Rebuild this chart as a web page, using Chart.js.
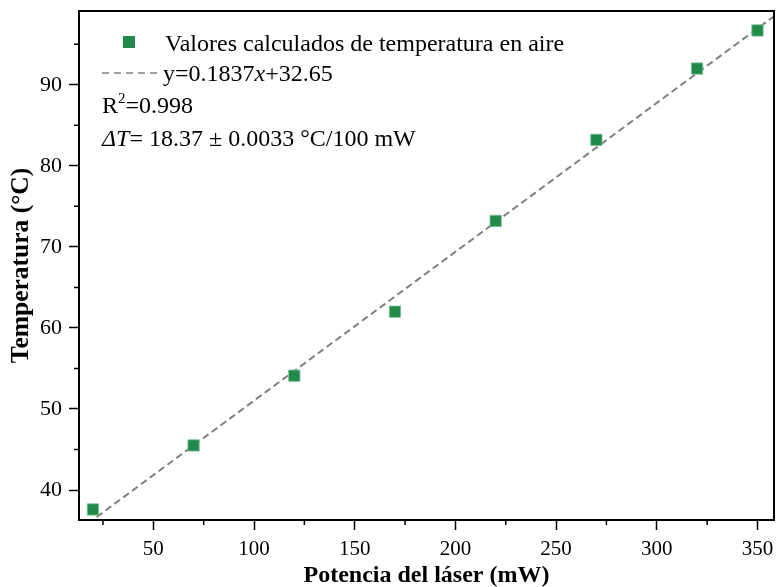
<!DOCTYPE html>
<html>
<head>
<meta charset="utf-8">
<script src="https://cdn.jsdelivr.net/npm/chart.js@4.4.0/dist/chart.umd.min.js"></script>
<style>
  html, body { margin: 0; padding: 0; background: #fff; overflow: hidden; }
  #wrap { width: 776px; height: 587px; }
</style>
</head>
<body>
<div id="wrap"><canvas id="myChart"></canvas></div>
<script>
// data
const potencia = [20, 70, 120, 170, 220, 270, 320, 350];
const temperatura = [37.6, 45.5, 54.1, 62.0, 73.2, 83.2, 92.0, 96.7];
const xTicks = [50, 100, 150, 200, 250, 300, 350];
const yTicks = [40, 50, 60, 70, 80, 90];
const xMinor = [25, 75, 125, 175, 225, 275, 325];
const yMinor = [45, 55, 65, 75, 85, 95];
const fitSlope = 0.1837;
const fitIntercept = 32.65;
const fitRange = [13.1, 358.2];

const serif = "'Liberation Serif', 'Times New Roman', serif";
const green = '#218a4b';

const fitLine = fitRange.map(x => ({ x: x, y: fitSlope * x + fitIntercept }));
const points = potencia.map((x, i) => ({ x: x, y: temperatura[i] }));

function noPad(s) {
  s.paddingLeft = 0; s.paddingRight = 0; s.paddingTop = 0; s.paddingBottom = 0;
}

// frame, minor ticks and the text box in the top-left corner
const decor = {
  id: 'decor',
  afterDraw(chart) {
    const { ctx, chartArea: a, scales } = chart;
    ctx.save();
    ctx.strokeStyle = '#000';
    ctx.lineWidth = 1.5;
    ctx.beginPath();
    xMinor.forEach(v => {
      const px = scales.x.getPixelForValue(v);
      ctx.moveTo(px, a.bottom); ctx.lineTo(px, a.bottom + 5);
    });
    yMinor.forEach(v => {
      const py = scales.y.getPixelForValue(v);
      ctx.moveTo(a.left, py); ctx.lineTo(a.left - 5, py);
    });
    ctx.stroke();
    ctx.lineWidth = 2;
    ctx.strokeRect(a.left, a.top, a.right - a.left, a.bottom - a.top);

    // legend-like annotation
    ctx.fillStyle = green;
    ctx.fillRect(123, 36, 12, 12);
    ctx.fillStyle = '#000';
    ctx.textBaseline = 'alphabetic';
    ctx.font = '24px ' + serif;
    ctx.fillText('Valores calculados de temperatura en aire', 165, 51);

    ctx.strokeStyle = '#808080';
    ctx.lineWidth = 1.5;
    ctx.setLineDash([7, 5]);
    ctx.beginPath(); ctx.moveTo(102, 73); ctx.lineTo(160, 73); ctx.stroke();
    ctx.setLineDash([]);

    let x = 163;
    ctx.fillText('y=0.1837', x, 81); x += ctx.measureText('y=0.1837').width;
    ctx.font = 'italic 24px ' + serif;
    ctx.fillText('x', x, 81); x += ctx.measureText('x').width;
    ctx.font = '24px ' + serif;
    ctx.fillText('+32.65', x, 81);

    x = 102;
    ctx.fillText('R', x, 113); x += ctx.measureText('R').width;
    ctx.font = '15px ' + serif;
    ctx.fillText('2', x, 103); x += ctx.measureText('2').width;
    ctx.font = '24px ' + serif;
    ctx.fillText('=0.998', x, 113);

    x = 102;
    ctx.font = 'italic 24px ' + serif;
    ctx.fillText('\u0394T', x, 146); x += ctx.measureText('\u0394T').width;
    ctx.font = '24px ' + serif;
    ctx.fillText('= 18.37 \u00b1 0.0033 \u00b0C/100 mW', x, 146);
    ctx.restore();
  }
};

new Chart(document.getElementById('myChart'), {
  type: 'scatter',
  data: {
    datasets: [
      {
        label: 'Ajuste',
        data: fitLine,
        showLine: true,
        borderColor: '#808080',
        borderWidth: 2,
        borderDash: [7, 4],
        pointRadius: 0,
        order: 2
      },
      {
        label: 'Valores calculados de temperatura en aire',
        data: points,
        pointStyle: 'rect',
        pointRadius: 8,
        backgroundColor: green,
        borderColor: '#7fbf95',
        borderWidth: 0.8,
        order: 1
      }
    ]
  },
  options: {
    responsive: true,
    maintainAspectRatio: false,
    animation: false,
    layout: { autoPadding: false, padding: { top: 11, right: 2, left: 0, bottom: 0 } },
    plugins: { legend: { display: false }, tooltip: { enabled: false } },
    scales: {
      x: {
        type: 'linear',
        min: fitRange[0],
        max: fitRange[1],
        afterBuildTicks: s => { s.ticks = xTicks.map(v => ({ value: v })); },
        afterFit: s => { s.height = 67; noPad(s); },
        grid: { drawOnChartArea: false, tickLength: 10, tickColor: '#000', tickWidth: 1.5 },
        border: { display: false },
        ticks: { color: '#000', font: { family: serif, size: 21 }, padding: 7, maxRotation: 0 },
        title: {
          display: true,
          text: 'Potencia del láser (mW)',
          color: '#000',
          font: { family: serif, size: 24, weight: 'bold' },
          padding: { top: 0, bottom: -3 }
        }
      },
      y: {
        type: 'linear',
        min: 36.3,
        max: 99.1,
        afterBuildTicks: s => { s.ticks = yTicks.map(v => ({ value: v })); },
        afterFit: s => { s.width = 79; noPad(s); },
        grid: { drawOnChartArea: false, tickLength: 10, tickColor: '#000', tickWidth: 1.5 },
        border: { display: false },
        ticks: { color: '#000', font: { family: serif, size: 22 }, padding: 7 },
        title: {
          display: true,
          text: 'Temperatura (°C)',
          color: '#000',
          font: { family: serif, size: 25.5, weight: 'bold' },
          padding: { top: 6, bottom: 0 }
        }
      }
    }
  },
  plugins: [decor]
});
</script>
</body>
</html>
